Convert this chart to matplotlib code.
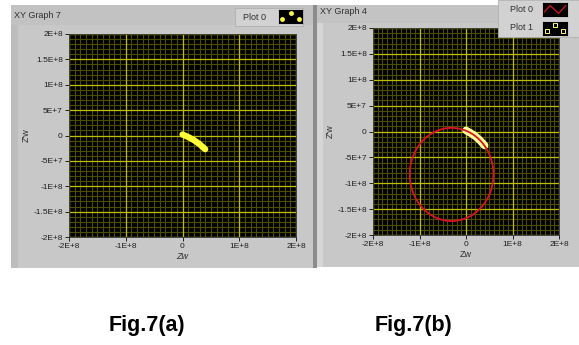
import matplotlib
matplotlib.use("Agg")
import matplotlib.pyplot as plt
from matplotlib.patches import Rectangle, Circle

# values
arc_x = [0.0, 1.0e7, 2.0e7, 3.0e7, 4.0e7]
arc_y = [0.2e7, -0.3e7, -0.9e7, -1.7e7, -2.7e7]
circle_center = (-3.1e7, -8.3e7)
circle_radius = 9.0e7

x_ticks = [-2e8, -1e8, 0, 1e8, 2e8]
x_labels = ["-2E+8", "-1E+8", "0", "1E+8", "2E+8"]
y_ticks = [-2e8, -1.5e8, -1e8, -5e7, 0, 5e7, 1e8, 1.5e8, 2e8]
y_labels = ["-2E+8", "-1.5E+8", "-1E+8", "-5E+7", "0", "5E+7", "1E+8",
            "1.5E+8", "2E+8"]
minor_step = 1e7

W, H = 579, 345
plt.rcParams["font.family"] = ["Liberation Sans", "DejaVu Sans"]
fig = plt.figure(figsize=(W / 100, H / 100), dpi=100)
fig.patch.set_facecolor("white")


def fbox(x0, y0, w, h, z=-5, **kw):
    # rectangle given in picture pixels (top-left origin)
    fig.patches.append(Rectangle((x0 / W, 1 - (y0 + h) / H), w / W, h / H,
                                 transform=fig.transFigure, zorder=z, **kw))


def ftext(x, y, s, **kw):
    fig.text(x / W, 1 - y / H, s, **kw)


def swatch(x0, y0, w, h):
    s = fig.add_axes([x0 / W, 1 - (y0 + h) / H, w / W, h / H], zorder=6)
    s.set_facecolor("black")
    s.set_xlim(0, 1)
    s.set_ylim(0, 1)
    s.set_xticks([])
    s.set_yticks([])
    return s


# LabVIEW style panels
fbox(11, 5, 302, 263, facecolor="#c8c8c8", edgecolor="none")
fbox(11, 5, 302, 20, facecolor="#c2c2c2", edgecolor="none")
fbox(11, 25, 7, 243, facecolor="#bdbdbd", edgecolor="none")
fbox(313, 5, 4, 263, facecolor="#8c8c8c", edgecolor="none")
fbox(317, 5, 262, 262, facecolor="#c8c8c8", edgecolor="none")
fbox(317, 5, 262, 18, facecolor="#c3c3c3", edgecolor="none")
fbox(317, 23, 6, 244, facecolor="#d6d6d6", edgecolor="none")

ftext(14, 16, "XY Graph 7", fontsize=6.5, color="#303030", va="center")
ftext(320, 11, "XY Graph 4", fontsize=6.5, color="#303030", va="center")


def setup(ax, italic):
    ax.set_facecolor("black")
    ax.set_xlim(-2e8, 2e8)
    ax.set_ylim(-2e8, 2e8)
    n = int(round(4e8 / minor_step))
    for i in range(n + 1):
        v = -2e8 + i * minor_step
        ax.axvline(v, color="#4d4d00", lw=0.8, zorder=0)
        ax.axhline(v, color="#4d4d00", lw=0.8, zorder=0)
    for v in x_ticks:
        ax.axvline(v, color="#bcbc00", lw=0.9, zorder=0.5)
    for v in y_ticks:
        ax.axhline(v, color="#bcbc00", lw=0.9, zorder=0.5)
    ax.set_xticks(x_ticks, x_labels)
    ax.set_yticks(y_ticks, y_labels)
    ax.tick_params(labelsize=6, colors="#202020", length=3, width=0.7,
                   pad=1.5)
    for s in ax.spines.values():
        s.set_color("#303030")
        s.set_linewidth(0.6)
    ax.set_xlabel("Zw", fontsize=6.5, color="#303030", labelpad=1,
                  style="italic" if italic else "normal")
    ax.set_ylabel("Z'w", fontsize=6.5, color="#303030", labelpad=2)


ax1 = fig.add_axes([69 / W, 1 - 237 / H, 227 / W, 203 / H])
setup(ax1, True)
ax1.plot(arc_x, arc_y, color="#ffff33", lw=4.5, solid_capstyle="round",
         zorder=3)

ax2 = fig.add_axes([373 / W, 1 - 235 / H, 186 / W, 207 / H])
setup(ax2, False)
ax2.plot(arc_x, arc_y, color="#ffff99", lw=5.5, solid_capstyle="round",
         zorder=3)
ax2.add_patch(Circle(circle_center, circle_radius, fill=False,
                     edgecolor="#e0101e", lw=1.3, zorder=4))

# legends (drawn above the plot areas, as in the screenshot)
fbox(235, 8, 68, 18, z=4, facecolor="#d2d2d2", edgecolor="#b0b0b0", lw=0.6)
ftext(243, 17, "Plot 0", fontsize=6.5, color="#303030", va="center",
      zorder=5)
sw = swatch(279, 10, 23, 13)
sw.plot([0.15, 0.5, 0.85], [0.3, 0.75, 0.3], "o", color="#ffff33", ms=2.5)

fbox(498, 0, 81, 37, z=4, facecolor="#d2d2d2", edgecolor="#b0b0b0", lw=0.6)
ftext(510, 10, "Plot 0", fontsize=6.5, color="#303030", va="center",
      zorder=5)
ftext(510, 28, "Plot 1", fontsize=6.5, color="#303030", va="center",
      zorder=5)
sw0 = swatch(543, 3, 24, 13)
sw0.plot([0.05, 0.3, 0.65, 0.95], [0.3, 0.8, 0.2, 0.8], color="#e0101e",
         lw=0.9)
sw1 = swatch(543, 22, 24, 13)
sw1.plot([0.15, 0.5, 0.85], [0.3, 0.75, 0.3], "s", mfc="none",
         mec="#ffff66", ms=2.2, mew=0.7)

# captions
ftext(147, 326, "Fig.7(a)", fontsize=15.5, fontweight="bold", ha="center",
      va="center")
ftext(414, 326, "Fig.7(b)", fontsize=15.5, fontweight="bold", ha="center",
      va="center")

fig.savefig("out.png", dpi=100)
